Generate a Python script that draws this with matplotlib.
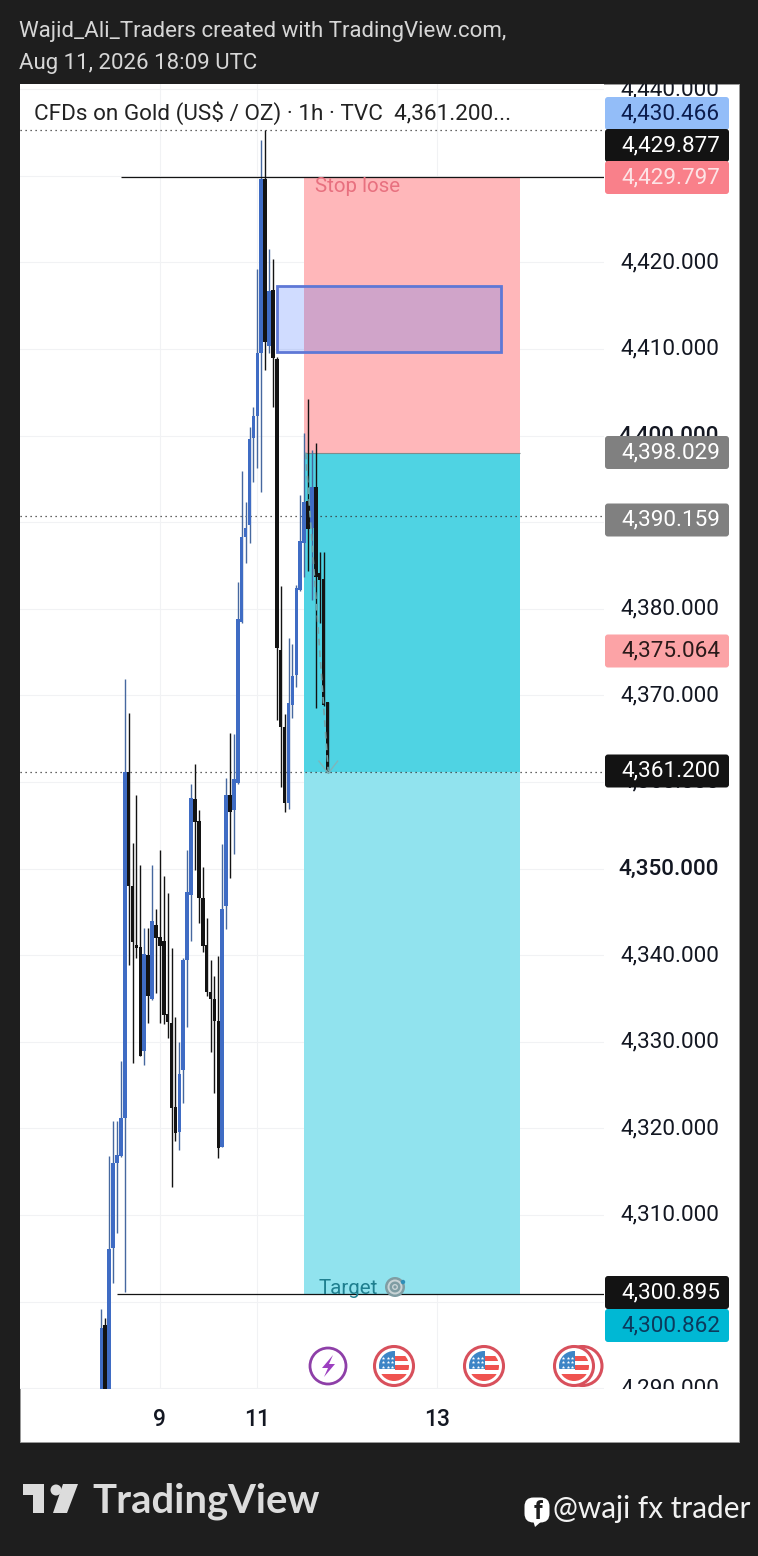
import matplotlib
matplotlib.use('Agg')
import matplotlib.pyplot as plt
from matplotlib.patches import Rectangle, Circle, FancyBboxPatch, Polygon
from matplotlib.transforms import Bbox, ScaledTranslation

plt.rcParams['font.family'] = ['Roboto', 'DejaVu Sans']

W, H = 758, 1556

# candles, oldest first
opens = [4288.2, 4297.3, 4288.2, 4306.2, 4316.0, 4316.8, 4321.2, 4361.1, 4348.0, 4341.2,
         4340.9, 4328.9, 4340.0, 4334.9, 4343.5, 4342.1, 4341.6, 4333.2, 4332.2, 4322.5,
         4319.6, 4326.7, 4339.4, 4346.9, 4358.0, 4355.5, 4346.6, 4341.2, 4335.7, 4334.9,
         4332.4, 4317.8, 4345.7, 4358.5, 4356.8, 4359.9, 4378.5, 4388.3, 4389.7, 4399.7,
         4402.3, 4409.5, 4429.6, 4410.3, 4416.8, 4408.8, 4375.2, 4366.3, 4357.6, 4368.9,
         4372.3, 4382.2, 4387.6, 4392.4, 4389.3, 4394.1, 4384.1, 4383.4, 4369.2]
closes = [4296.9, 4288.0, 4306.1, 4316.0, 4316.9, 4321.2, 4361.1, 4348.0, 4341.5, 4340.8,
          4328.3, 4340.1, 4335.3, 4343.9, 4342.0, 4341.1, 4333.1, 4332.3, 4322.3, 4319.5,
          4326.3, 4339.4, 4347.3, 4358.1, 4355.4, 4346.6, 4341.1, 4335.7, 4334.9, 4332.4,
          4317.7, 4345.3, 4358.5, 4356.5, 4360.3, 4378.8, 4388.3, 4389.3, 4399.6, 4402.3,
          4409.5, 4429.6, 4410.8, 4416.7, 4408.9, 4375.5, 4366.3, 4357.6, 4369.1, 4372.2,
          4382.4, 4387.8, 4392.3, 4389.2, 4394.1, 4383.7, 4383.3, 4368.9, 4361.1]
highs = [4299.1, 4298.1, 4316.8, 4320.8, 4320.8, 4327.8, 4371.9, 4368.0, 4352.9, 4358.5,
         4350.4, 4343.1, 4343.1, 4350.4, 4345.3, 4352.1, 4349.1, 4347.2, 4340.8, 4332.9,
         4330.0, 4339.7, 4352.1, 4359.8, 4362.1, 4356.8, 4350.2, 4344.3, 4339.4, 4337.6,
         4339.9, 4352.8, 4360.5, 4365.6, 4365.5, 4383.1, 4395.9, 4392.3, 4401.0, 4403.3,
         4419.2, 4434.1, 4435.3, 4421.5, 4420.4, 4409.1, 4382.6, 4367.8, 4376.6, 4375.9,
         4382.7, 4393.1, 4400.3, 4404.2, 4398.3, 4399.1, 4386.5, 4386.5, 4369.2]
lows = [4287.5, 4287.0, 4287.5, 4302.1, 4307.9, 4316.7, 4301.1, 4338.9, 4327.5, 4339.7,
        4328.3, 4327.3, 4332.2, 4334.8, 4335.6, 4332.2, 4332.0, 4330.4, 4313.2, 4318.5,
        4317.5, 4322.9, 4331.7, 4341.6, 4349.8, 4343.7, 4340.4, 4335.3, 4328.8, 4324.1,
        4316.6, 4317.8, 4343.0, 4348.9, 4351.7, 4359.8, 4378.4, 4385.3, 4387.6, 4394.6,
        4396.2, 4393.5, 4407.6, 4409.5, 4403.3, 4367.1, 4359.4, 4356.5, 4356.9, 4367.4,
        4371.0, 4382.1, 4383.7, 4384.4, 4381.0, 4368.5, 4378.4, 4368.8, 4361.0]

price_ticks = [4290, 4300, 4310, 4320, 4330, 4340, 4350, 4360, 4370, 4380, 4390, 4400,
               4410, 4420, 4430, 4440]
bold_ticks = [4350, 4400]
day_ticks = [15, 40, 86]
day_labels = ['9', '11', '13']

stop_price = 4429.797
entry_price = 4398.029
last_price = 4361.2
target_price = 4300.862
target_line = 4300.895
high_line = 4435.27
dotted_price = 4390.65
box_top = 4417.3
box_bottom = 4409.6

# price tag text, colours and where the stack puts them on screen
tag_text = ['4,430.466', '4,429.877', '4,429.797', '4,398.029', '4,390.159',
            '4,375.064', '4,361.200', '4,300.895', '4,300.862']
tag_y = [113.5, 145.5, 177.5, 452.5, 520, 651, 771, 1292.5, 1325.5]
tag_bg = ['#93bdf8', '#131313', '#f9808a', '#808080', '#808080',
          '#fca3a6', '#131313', '#131313', '#00b8d4']
tag_fg = ['#0b1c4d', '#ffffff', '#fde4e6', '#ffffff', '#ffffff',
          '#2a1a1a', '#ffffff', '#ffffff', '#0c3a5c']

fig = plt.figure(figsize=(W / 100, H / 100), dpi=100, facecolor='#1e1e1e')
fig.add_artist(Rectangle((20 / W, 1 - 1442 / H), 719 / W, 1358 / H, transform=fig.transFigure,
                         facecolor='white', edgecolor='#9a9a9a', linewidth=0.7, zorder=-1))

ax = fig.add_axes([20 / W, 1 - 1389 / H, 584 / W, 1305 / H])
ax.set_xlim(-20.85, 128.9)
ax.set_ylim(4350 - (1389 - 868.5) / 8.66, 4350 + (868.5 - 84) / 8.66)
ax.set_axisbelow(True)
for s in ax.spines.values():
    s.set_visible(False)
ax.grid(True, color='#f1f2f4', linewidth=0.8)

ax.yaxis.tick_right()
ax.set_yticks(price_ticks)
ax.set_yticklabels([f'{p:,.3f}' for p in price_ticks], fontsize=16.2, color='#131722', ha='right')
ax.tick_params(axis='y', length=0, pad=83)
ax.set_xticks(day_ticks)
ax.set_xticklabels(day_labels, fontsize=16.5, color='#131722', fontweight='medium')
ax.tick_params(axis='x', length=0, pad=14)

# the scale text is cut off at the chart's top and bottom edges
clip = Bbox([[20, H - 1389], [739, H - 84]])
nudge = ScaledTranslation(0, 2 / 100, fig.dpi_scale_trans)
for p, lab in zip(price_ticks, ax.get_yticklabels()):
    lab.set_transform(lab.get_transform() + nudge)
    lab.set_clip_on(True)
    lab.set_clip_box(clip)
    if p in bold_ticks:
        lab.set_fontweight('medium')

# position tool
left, right = 52.0, 107.4
ax.fill_between([left, right], entry_price, stop_price, color='#ffb7ba', lw=0, zorder=1)
ax.fill_between([left, right], last_price, entry_price, color='#4fd3e3', lw=0, zorder=1)
ax.fill_between([left, right], target_price, last_price, color='#91e3ee', lw=0, zorder=1)
ax.plot([left, right], [entry_price, entry_price], color='#7f8c8d', lw=0.8, zorder=1.5,
        solid_capstyle='butt')

ax.hlines([stop_price, target_line], [5, 4], 128.9, color='#131313', lw=0.9, zorder=4)
ax.hlines([high_line, dotted_price, last_price], -20.85, 128.9, color='#333333', lw=0.9,
          linestyles=(0, (1, 3)), zorder=1.8)

# candles
xs = list(range(len(opens)))
up = [c >= o for o, c in zip(opens, closes)]
wick_cols = ['#46689f' if u else '#131313' for u in up]
body_cols = ['#3f6cc4' if u else '#131313' for u in up]
ax.vlines(xs, lows, highs, colors=wick_cols, linewidth=1.0, zorder=2)
ax.bar(xs, [abs(c - o) for o, c in zip(opens, closes)], bottom=[min(o, c) for o, c in zip(opens, closes)],
       width=0.92, color=body_cols, linewidth=0, zorder=2.2)

# path of the trade and its arrow head
ax.plot([52.4, 58.2], [entry_price, last_price], color='#6fa3a8', lw=1.2,
        linestyle=(0, (4, 3)), zorder=2.6)
ax.plot([55.8, 58.2, 60.6], [last_price + 1.2, last_price - 0.2, last_price + 1.2],
        color='#7fb5ba', lw=1.0, zorder=2.6)

# marked zone
ax.add_patch(Rectangle((45, box_bottom), 57.4, box_top - box_bottom, facecolor='#2962ff',
                       alpha=0.22, lw=0, zorder=3))
ax.add_patch(Rectangle((45, box_bottom), 57.4, box_top - box_bottom, fill=False,
                       edgecolor='#5e78d6', lw=2.0, zorder=3.1))
ax.text(54.9, 4428.8, 'Stop lose', fontsize=14.8, color='#e8707f', va='center', zorder=5)
ax.text(55.8, 4301.5, 'Target', fontsize=14.8, color='#1f7f8f', va='center', zorder=5)

# overlay in screen pixels for tags, icons and the surrounding page
ov = fig.add_axes([0, 0, 1, 1], facecolor='none')
ov.set_xlim(0, W)
ov.set_ylim(H, 0)
ov.axis('off')

for txt, y, bg, fg in zip(tag_text, tag_y, tag_bg, tag_fg):
    ov.add_patch(FancyBboxPatch((607, y - 14.5), 120, 29, boxstyle='round,pad=2,rounding_size=3',
                                facecolor=bg, edgecolor='none'))
    ov.text(720, y, txt, fontsize=16.2, color=fg, ha='right', va='center')

ov.text(19, 31, 'Wajid_Ali_Traders created with TradingView.com,', fontsize=16.05, color='#d6d6d6', va='center')
ov.text(19, 63, 'Aug 11, 2026 18:09 UTC', fontsize=16.05, color='#d6d6d6', va='center')
ov.text(34, 113, 'CFDs on Gold (US$ / OZ) · 1h · TVC  4,361.200...', fontsize=16.2, color='#222222', va='center')


def flag(cx, cy):
    ov.add_patch(Circle((cx, cy), 19.5, facecolor='white', edgecolor='#d8505c', lw=2.2))
    disc = Circle((cx, cy), 15, transform=ov.transData)
    parts = [Rectangle((cx - 15, cy - 15), 30, 30, facecolor='white'),
             Rectangle((cx + 1, cy - 10), 15, 5, facecolor='#ef5350'),
             Rectangle((cx + 1, cy - 1), 15, 5, facecolor='#ef5350'),
             Rectangle((cx - 15, cy + 8), 30, 8, facecolor='#ef5350'),
             Rectangle((cx - 15, cy - 15), 16, 18, facecolor='#3d85c6')]
    for p in parts:
        p.set_linewidth(0)
        ov.add_patch(p)
        p.set_clip_path(disc)
    for row in range(3):
        for col in range(3):
            ov.plot(cx - 11 + col * 4.5, cy - 8.5 + row * 4.5, marker='*', ms=2.6, color='white', mew=0)


ov.add_patch(Circle((582.5, 1366), 19.5, facecolor='white', edgecolor='#d8505c', lw=2.2))
flag(394, 1366)
flag(484, 1366)
flag(574, 1366)

# economic event marker
ov.add_patch(Circle((328, 1366), 18, facecolor='white', edgecolor='#8e3fa8', lw=2.0))
ov.add_patch(Polygon([(333, 1355), (322, 1368), (328, 1368), (324, 1377), (335, 1364), (329, 1364)],
                     facecolor='#9c3fc0', edgecolor='none'))

# target icon
for r, c in [(10, '#7f9da3'), (7.5, '#c9d4d6'), (5.5, '#7f9da3'), (3, '#c9d4d6'), (1.6, '#7f9da3')]:
    ov.add_patch(Circle((395, 1287), r, facecolor=c, edgecolor='none'))
ov.add_patch(Circle((403, 1282), 2.2, facecolor='#2f8fb8', edgecolor='none'))

# TradingView logo
logo = '#dcdcdc'
ov.add_patch(Polygon([(23, 1484), (44, 1484), (44, 1513), (33, 1513), (33, 1495), (23, 1495)],
                     facecolor=logo, edgecolor='none'))
ov.add_patch(Circle((56, 1490), 5.5, facecolor=logo, edgecolor='none'))
ov.add_patch(Polygon([(63, 1484), (78, 1484), (67, 1513), (53, 1513)], facecolor=logo, edgecolor='none'))
ov.text(92, 1501, 'TradingView', fontsize=28.8, color=logo, fontweight='bold', va='center', family='Lato')

# facebook handle
ov.add_patch(FancyBboxPatch((527, 1500), 20, 20, boxstyle='round,pad=2.5,rounding_size=9',
                            facecolor='white', edgecolor='none'))
ov.add_patch(Polygon([(533, 1520), (543, 1520), (535, 1527)], facecolor='white', edgecolor='none'))
ov.text(538, 1512, 'f', fontsize=18, color='#1e1e1e', ha='center', va='center', fontweight='bold')
ov.text(553, 1509, '@waji fx trader', fontsize=21.4, color='#f2f2f2', va='center', family='Lato')

fig.savefig('out.png', dpi=100, facecolor=fig.get_facecolor())
